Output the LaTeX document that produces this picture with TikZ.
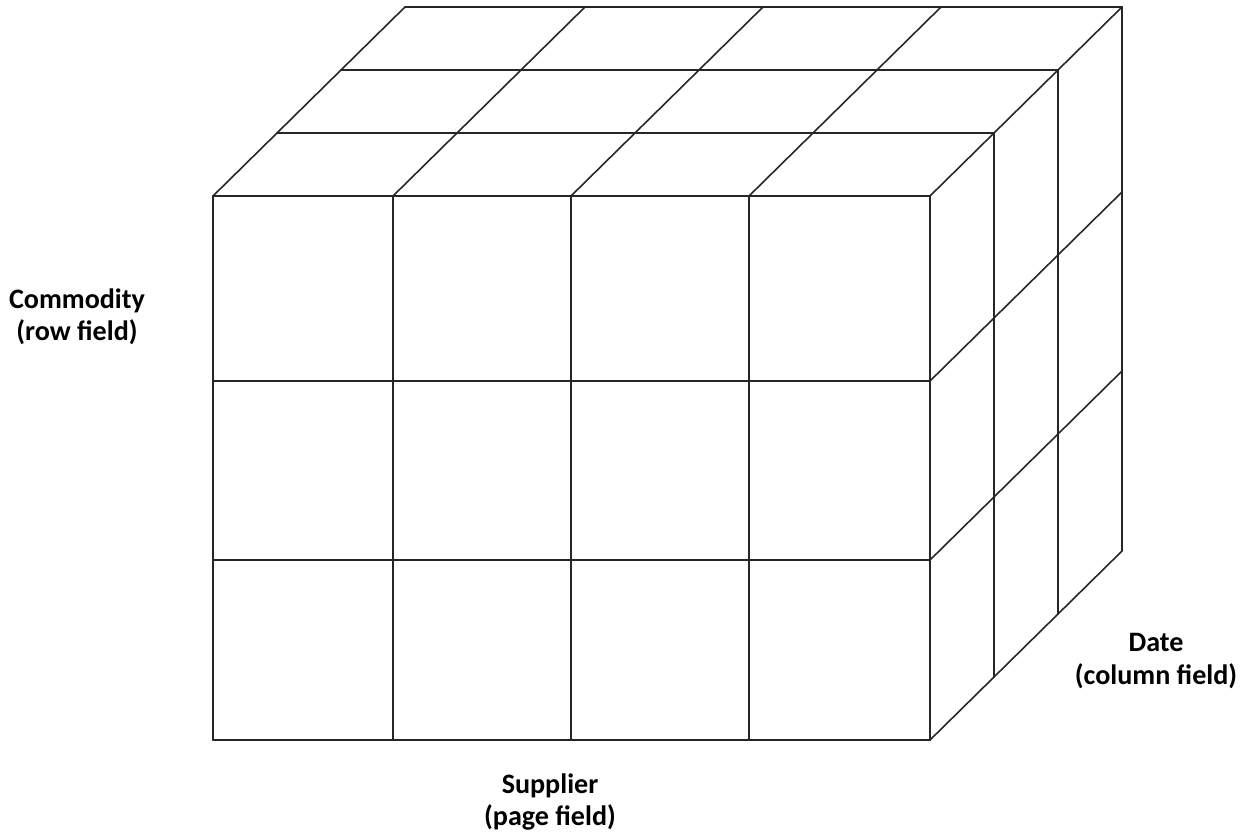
\documentclass[tikz,border=0pt]{standalone}
\usepackage{fontspec}
\setmainfont{Carlito}
\usepackage{tikz}
\usetikzlibrary{positioning, calc}
\tikzset{
    gridline/.style={line width=0.9pt, color=black!85, line cap=round, line join=round},
    fieldlabel/.style={font=\fontsize{16}{18.5}\selectfont\bfseries, align=center, inner sep=0pt}
}

\begin{document}
\begin{tikzpicture}[x=0.02cm, y=-0.02cm]
    \useasboundingbox (0,0) rectangle (1247,835);

    % front face
    \foreach \cx in {213,393,571,749,930}
        \draw [gridline] (\cx,196) -- (\cx,740);
    \foreach \ry in {196,381,560,740}
        \draw [gridline] (213,\ry) -- (930,\ry);

    % top face
    \foreach \k in {1,2,3}
        \draw [gridline] ({213+64*\k},{196-63*\k}) -- ({930+64*\k},{196-63*\k});
    \foreach \cx in {213,393,571,749,930}
        \draw [gridline] (\cx,196) -- ({\cx+192},7);

    % right face
    \foreach \k in {1,2,3}
        \draw [gridline] ({930+64*\k},{196-63*\k}) -- ({930+64*\k},{740-63*\k});
    \foreach \ry in {381,560,740}
        \draw [gridline] (930,\ry) -- (1122,{\ry-189});

    % axis labels
    \node (commodity) [fieldlabel] at (77,317) {Commodity\\(row field)};
    \node (supplier) [fieldlabel] at (550,802) {Supplier\\(page field)};
    \node (date) [fieldlabel] at (1156,661) {Date\\(column field)};
\end{tikzpicture}
\end{document}
